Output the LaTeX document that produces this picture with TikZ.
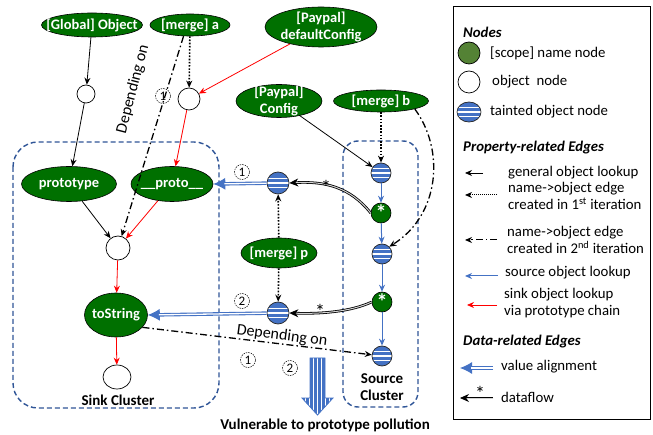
\documentclass[tikz,border=0pt]{standalone}
\usepackage{fontspec}
\setmainfont{Carlito}
\usetikzlibrary{arrows.meta,shapes.geometric,calc}
\definecolor{ngreen}{RGB}{0,112,0}
\definecolor{lgreen}{RGB}{84,130,53}
\definecolor{sblue}{RGB}{68,114,196}
\definecolor{dblue}{RGB}{47,85,151}
\begin{document}
\begin{tikzpicture}[x=1pt,y=-1pt,
  gtext/.style={text=white, font=\fontsize{14.5}{17}\selectfont\bfseries, inner sep=0pt, align=center},
  gnode/.style={ellipse, draw=black, fill=ngreen, inner sep=0pt, line width=0.6pt, label={[gtext]center:#1}},
  onode/.style={circle, draw=black, fill=white, minimum size=#1, inner sep=0pt, line width=0.7pt},
  snode/.style={circle, draw=black!85, minimum size=#1, inner sep=0pt, line width=0.7pt, fill=sblue,
     path picture={\foreach \k in {-4.5,0,4.5} \draw[white, line width=1.3pt] ([shift={(-14pt,\k pt)}]path picture bounding box.center) -- ++(28pt,0pt);}},
  stnode/.style={circle, draw=black, fill=ngreen, minimum size=20pt, inner sep=0pt, line width=0.6pt, text=white, font=\fontsize{22}{22}\selectfont\bfseries},
  cnum/.style={circle, draw=black, dashed, dash pattern=on 1.5pt off 1pt, line width=0.5pt, minimum size=15pt, inner sep=0pt, font=\fontsize{13}{13}\selectfont},
  cluster/.style={draw=dblue, line width=1.4pt, dash pattern=on 5pt off 3pt},
  tip/.style={-{Stealth[length=7pt,width=6pt]}},
  blk/.style={tip, draw=black, line width=0.8pt},
  red/.style={tip, draw=red, line width=0.8pt},
  blu/.style={-{Stealth[length=7pt,width=6pt]}, draw=sblue, line width=1pt},
  dotl/.style={tip, draw=black, line width=1.6pt, dash pattern=on 1.6pt off 1.6pt},
  dashdot/.style={tip, draw=black, line width=1.3pt, dash pattern=on 7pt off 3pt on 1.5pt off 3pt},
  vtip/.style={draw=sblue, line width=1pt, -{Latex[length=12pt,width=12pt]}},
  valign/.style={draw=sblue, double=white, double distance=1.3pt, line width=1.1pt, shorten >=11pt},
  dflow/.style={draw=black, double=gray!35, double distance=1pt, line width=0.8pt, -{Stealth[length=9pt,width=8pt]}},
  lbl/.style={font=\fontsize{14.8}{17.5}\selectfont, anchor=west, align=left, inner sep=0pt},
  lhead/.style={font=\fontsize{14.8}{17}\selectfont\bfseries\itshape, anchor=west, inner sep=0pt},
  btxt/.style={font=\fontsize{15}{17.5}\selectfont\bfseries, align=center, inner sep=0pt},
  dtxt/.style={font=\fontsize{16}{17}\selectfont, inner sep=0pt},
  star/.style={font=\fontsize{20}{20}\selectfont, inner sep=0pt}
]
\useasboundingbox (0,0) rectangle (653,435);

% clusters
\draw[cluster, rounded corners=25pt] (13,142) rectangle (219,408);
\draw[cluster, rounded corners=15pt] (343,141) rectangle (418,407);

% top name nodes
\node[gnode={[Global] Object}, minimum width=101pt, minimum height=24pt] (glob) at (92,25) {};
\node[gnode={[merge] a}, minimum width=80pt, minimum height=22pt] (ma) at (190,25) {};
\node[gnode={[Paypal]\\defaultConfig}, minimum width=112pt, minimum height=40pt] (pdc) at (321,27) {};
\node[gnode={[Paypal]\\Config}, minimum width=86pt, minimum height=33pt] (pc) at (279,101) {};
\node[gnode={[merge] b}, minimum width=95pt, minimum height=22pt] (mb) at (381,101) {};

\node[onode=18pt] (o1) at (86,94) {};
\node[onode=22pt] (o2) at (189,99) {};

% sink cluster
\node[gnode={prototype}, minimum width=95pt, minimum height=35pt] (proto) at (69,184) {};
\node[gnode={\_\_proto\_\_}, minimum width=82pt, minimum height=35pt] (pproto) at (172,184) {};
\node[onode=24pt] (o3) at (118,248) {};
\node[gnode={toString}, minimum width=63pt, minimum height=44pt] (ts) at (116,315) {};
\node[ellipse, draw=black, fill=white, minimum width=28pt, minimum height=24pt, inner sep=0pt, line width=0.7pt] (o4) at (117,377) {};
\node[btxt] (sinklbl) at (118,400) {Sink Cluster};

% source cluster
\node[snode=20pt] (s1) at (381,173) {};
\node[stnode] (g1) at (381,213) {\raisebox{-6pt}{*}};
\node[snode=20pt] (s2) at (382,254) {};
\node[stnode] (g2) at (382,302) {\raisebox{-6pt}{*}};
\node[snode=20pt] (s3) at (382,356) {};
\node[btxt] (srclbl) at (382,387) {Source\\Cluster};

% middle
\node[snode=22pt] (sm1) at (278,183) {};
\node[gnode={[merge] p}, minimum width=76pt, minimum height=30pt] (mp) at (279,253) {};
\node[snode=22pt] (sm2) at (278,313) {};

% solid black
\draw[blk] (glob) -- (o1);
\draw[blk] (o1) -- (proto);
\draw[blk] (proto) -- (o3);
\draw[blk] (pc) -- (s1);
% red
\draw[red] (pdc) -- (o2);
\draw[red] (o2) -- (pproto);
\draw[red] (pproto) -- (o3);
\draw[red] (o3) -- (ts);
\draw[red] (ts) -- (o4);
% blue
\draw[blu] (s1) -- (g1);
\draw[blu] (g1) -- (s2);
\draw[blu] (s2) -- (g2);
\draw[blu] (g2) -- (s3);
% dotted
\draw[dotl] (ma) -- (o2);
\draw[dotl] (mb) -- (s1);
\draw[dotl] (mp) -- (sm1);
\draw[dotl] (mp) -- (sm2);
% dash-dot
\draw[dashdot] (ma.240) -- (o3);
\node[dtxt, rotate=75.5] (dep1) at (133,89) {Depending on};
\node[cnum] (c1t) at (163,96) {1};
\draw[dashdot] (mb.south east) .. controls (445,150) and (440,215) .. (s2.north east);
\draw[dashdot] (ts.-25) -- (s3);
\node[dtxt, rotate=-7.4] (dep2) at (282,336) {Depending on};
\node[cnum] (c1b) at (248,360) {1};
\node[cnum] (c2b) at (290,368) {2};

% value alignment
\draw[vtip] (sm1) -- (pproto.east);
\draw[valign] (sm1) -- (pproto.east);
\draw[vtip] (sm2) -- (ts.east);
\draw[valign] (sm2) -- (ts.east);
\node[cnum] (c1a) at (242,172) {1};
\node[cnum] (c2a) at (242,301) {2};

% dataflow
\draw[dflow] (g1.west) .. controls (350,187) and (325,181) .. (sm1.east);
\node[star] (st1) at (326,187) {*};
\draw[dflow] (g2.west) .. controls (350,312) and (320,314) .. (sm2.east);
\node[star] (st2) at (320,311) {*};

% big arrow
\path[draw=sblue, line width=0.8pt, fill=sblue,
  path picture={\foreach \xx in {305.5,309.5,313.5,317.5,321.5,325.5,329.5} \draw[white,line width=1.3pt] (\xx,350) -- (\xx,420);}]
  (310,358) -- (325,358) -- (325,398) -- (333,398) -- (317.5,415) -- (302,398) -- (310,398) -- cycle;
\node[btxt] (vuln) at (325,425) {Vulnerable to prototype pollution};

% legend
\draw[line width=1pt] (453,7) rectangle (650,419);
\node[lhead] (lh1) at (463,32) {Nodes};
\node[circle, draw=black, fill=lgreen, minimum size=22pt, inner sep=0pt, line width=0.7pt] (lg) at (469,53) {};
\node[lbl] (lgt) at (490,53) {[scope] name node};
\node[onode=22pt] (lo) at (469,82) {};
\node[lbl] (lot) at (492,82) {object\ \ node};
\node[snode=20pt, ellipse, minimum width=24pt] (ls) at (469,112) {};
\node[lbl] (lst) at (490,112) {tainted object node};
\node[lhead] (lh2) at (463,148) {Property-related Edges};
\coordinate (a1s) at (483,173); \coordinate (a1e) at (465,173);
\draw[blk] (a1s) -- (a1e);
\node[lbl] (a1t) at (508,173) {general object lookup};
\coordinate (a2s) at (497,195); \coordinate (a2e) at (465,195);
\draw[tip, draw=black, line width=1pt, dash pattern=on 1pt off 1pt] (a2s) -- (a2e);
\node[lbl] (a2t) at (508,196) {name->object edge\\created in 1\textsuperscript{st} iteration};
\coordinate (a3s) at (497,240); \coordinate (a3e) at (465,240);
\draw[tip, draw=black, line width=1pt, dash pattern=on 7pt off 3pt on 1.5pt off 3pt] (a3s) -- (a3e);
\node[lbl] (a3t) at (507,240) {name->object edge\\created in 2\textsuperscript{nd} iteration};
\coordinate (a4s) at (498,276); \coordinate (a4e) at (465,276);
\draw[blu] (a4s) -- (a4e);
\node[lbl] (a4t) at (505,273) {source object lookup};
\coordinate (a5s) at (497,305); \coordinate (a5e) at (467,305);
\draw[red] (a5s) -- (a5e);
\node[lbl] (a5t) at (504,303) {sink object lookup\\via prototype chain};
\node[lhead] (lh3) at (463,342) {Data-related Edges};
\coordinate (a6s) at (493,368); \coordinate (a6e) at (460,368);
\draw[vtip] (a6s) -- (a6e);
\draw[valign] (a6s) -- (a6e);
\node[lbl] (a6t) at (501,367) {value alignment};
\coordinate (a7s) at (493,398); \coordinate (a7e) at (460,398);
\draw[dflow] (a7s) -- (a7e);
\node[star] (st3) at (480,393) {*};
\node[lbl] (a7t) at (501,397) {dataflow};
\end{tikzpicture}
\end{document}
